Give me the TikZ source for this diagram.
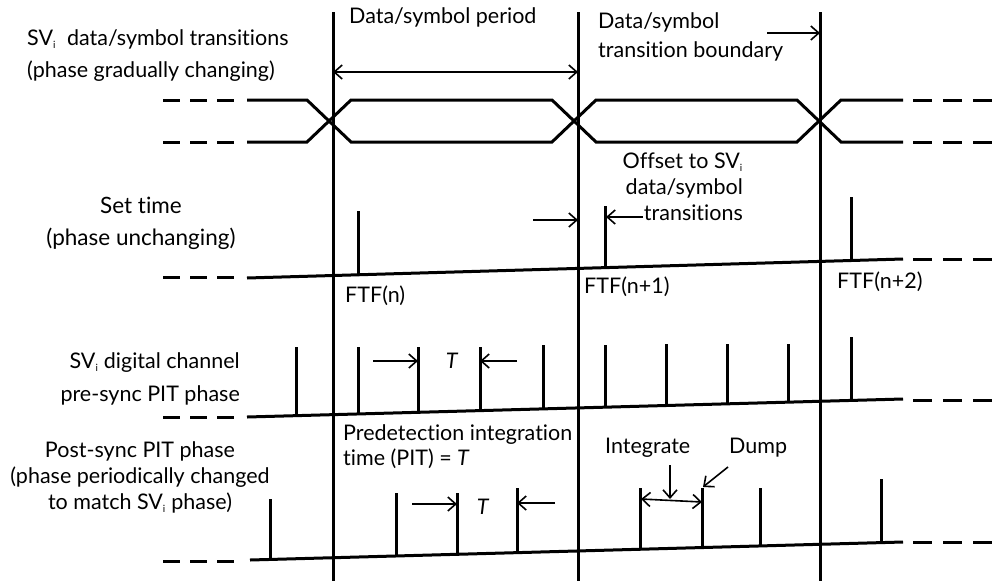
\documentclass[tikz,border=0pt]{standalone}
\usepackage{fontspec}
\setmainfont{Lato}[Ligatures=CommonOff]
\usetikzlibrary{arrows.meta}
\newcommand{\svi}{SV\textsubscript{\fontsize{10}{10}\selectfont i}}

\begin{document}
\begin{tikzpicture}[x=1pt, y=-1pt,
  bar/.style={line width=3pt},
  ext/.style={line width=3pt, dash pattern=on 17pt off 10pt},
  extr/.style={line width=3pt, dash pattern=on 19pt off 11pt},
  ptr/.style={line width=1.6pt, -{Straight Barb[length=8pt,width=14pt]}},
  dptr/.style={line width=1.6pt, {Straight Barb[length=8pt,width=14pt]}-{Straight Barb[length=8pt,width=14pt]}},
  lbl/.style={inner sep=0pt, font=\fontsize{21.5}{26}\selectfont}]
\useasboundingbox (0,0) rectangle (992,581);

% symbol boundaries
\foreach \x/\n in {333/1, 578/2, 820/3} {
  \coordinate (bt\n) at (\x,12);
  \coordinate (bb\n) at (\x,581);
  \draw[bar] (bt\n) -- (bb\n);
}

% SV data/symbol transitions
\draw[bar] (247,100) -- (307,100) -- (351,142) -- (552,142) -- (596,100) -- (797,100) -- (841,142) -- (903,142);
\draw[bar] (247,142) -- (307,142) -- (351,100) -- (552,100) -- (596,142) -- (797,142) -- (841,100) -- (903,100);
\foreach \y in {100,142} {
  \draw[ext] (163,\y) -- (236,\y);
  \draw[extr] (913,\y) -- (992,\y);
}

% set time
\draw[bar] (247,278) -- (903,259);
\draw[ext] (163,277) -- (236,277);
\draw[extr] (913,259) -- (992,259);
\foreach \x/\t in {358/211, 605/206, 851/197}
  \draw[bar] (\x,\t) -- (\x,{278-19*(\x-247)/656});

% pre-sync PIT phase
\draw[bar] (247,417) -- (903,399);
\draw[ext] (163,417) -- (236,417);
\draw[extr] (913,400) -- (992,400);
\foreach \x/\t in {296/347, 358/347, 418/347, 480/347, 543/345, 605/345, 666/344, 727/344, 788/344, 851/337}
  \draw[bar] (\x,\t) -- (\x,{417-18*(\x-247)/656});

% post-sync PIT phase
\draw[bar] (250,560) -- (903,542);
\draw[ext] (163,561) -- (236,561);
\draw[extr] (913,542) -- (992,542);
\foreach \x/\t in {270/499, 396/493, 457/493, 517/488, 640/488, 702/488, 760/488, 881/479}
  \draw[bar] (\x,\t) -- (\x,{560-18*(\x-250)/653});

% labels (multi-line nodes sit on their last line)
\node[lbl, anchor=base west, align=left, font=\fontsize{21.5}{32}\selectfont] (svlbl) at (27,77)
  {\svi\ \ data/symbol transitions\\(phase gradually changing)};
\node[lbl, anchor=base, align=center, font=\fontsize{22.5}{32}\selectfont] (setlbl) at (141,245)
  {Set time\\(phase unchanging)};
\node[lbl, anchor=base east, align=right, font=\fontsize{21.5}{33}\selectfont] (prelbl) at (240,401)
  {\svi{} digital channel\\pre-sync PIT phase};
\node[lbl, anchor=base, align=center] (postlbl) at (140,509)
  {Post-sync PIT phase\\(phase periodically changed\\to match \svi{} phase)};
\node[lbl, anchor=base west] (perlbl) at (349,23) {Data/symbol period};
\node[lbl, anchor=base west, align=left, font=\fontsize{21.5}{29}\selectfont] (bndlbl) at (598,57)
  {Data/symbol\\transition boundary};
\node[lbl, anchor=base east, align=right] (offlbl) at (743,220)
  {Offset to \svi\\data/symbol\\transitions};
\node[lbl, anchor=base west] (ftf1) at (345,302) {FTF(n)};
\node[lbl, anchor=base west] (ftf2) at (584,293) {FTF(n+1)};
\node[lbl, anchor=base west] (ftf3) at (837,288) {FTF(n+2)};
\node[lbl, anchor=base west, align=left, font=\fontsize{21.5}{25}\selectfont] (pitlbl) at (343,465)
  {Predetection integration\\time (PIT) = \textit{T}};
\node[lbl, anchor=base west] (intlbl) at (605,453) {Integrate};
\node[lbl, anchor=base west] (dmplbl) at (729,453) {Dump};
\node[lbl, anchor=base] (tpre) at (452,368) {\textit{T}};
\node[lbl, anchor=base] (tpost) at (483,514) {\textit{T}};

% markers
\draw[dptr] (bt1 |- 0,72) -- (bt2 |- 0,72);
\draw[ptr] (767,33) -- (bt3 |- 0,33);
\draw[ptr] (533,220) -- (bt2 |- 0,220);
\draw[ptr] (643,217) -- (606,217);
\draw[ptr] (373,361) -- (418,361);
\draw[ptr] (517,361) -- (480,361);
\draw[ptr] (412,504) -- (457,504);
\draw[ptr] (555,503) -- (517,503);
\draw[ptr] (670,465) -- (670,499);
\draw[dptr] (641,499) -- (702,502);
\draw[ptr] (728,467) -- (703,487);
\end{tikzpicture}
\end{document}
